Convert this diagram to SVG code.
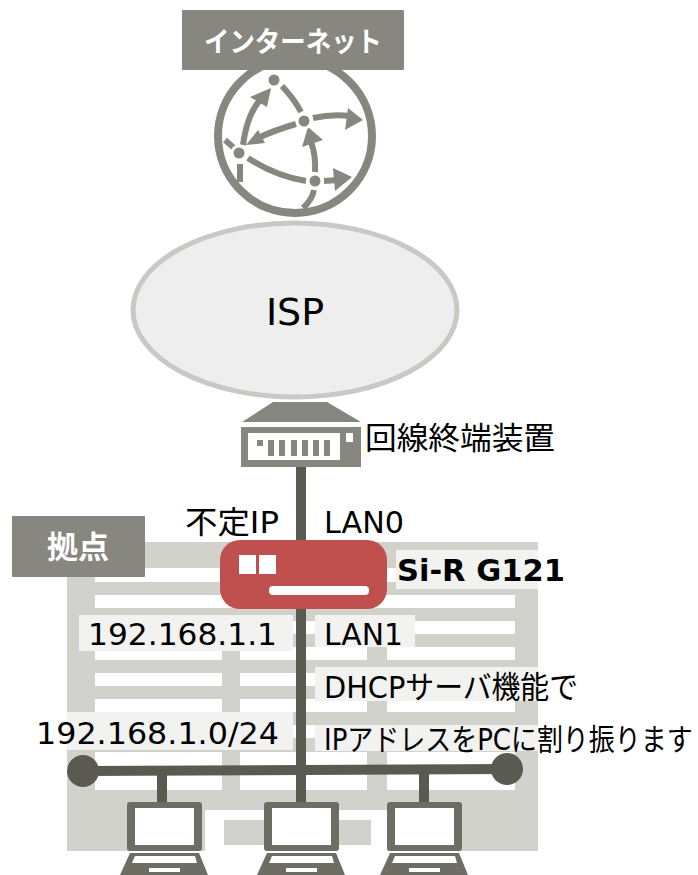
<svg xmlns="http://www.w3.org/2000/svg" width="698" height="875" viewBox="0 0 698 875">
<style>
.t{font-family:"DejaVu Sans","Noto Sans CJK JP",sans-serif;font-size:31px;fill:#000}
.w{font-family:"Noto Sans CJK JP",sans-serif;font-weight:700;fill:#fff;text-anchor:middle}
.bg{fill:#d2d2cc}.st{fill:#fff}.lb{fill:#f2f2f0}.dk{fill:#878780}.ln{stroke:#5a5a50;stroke-width:10;fill:none}
.g{fill:none;stroke:#878780;stroke-width:6}.h{fill:#878780}.n{fill:#878780;stroke:#fff;stroke-width:3}
.pc{fill:#6e6d63}
</style>
<rect width="698" height="875" fill="#fff"/>
<g id="site-plan">
<rect class="bg" x="67" y="542" width="471" height="309"/>
<rect class="st" x="95" y="568" width="420" height="14"/>
<rect class="st" x="95" y="595" width="420" height="13"/>
<rect class="st" x="95" y="621" width="420" height="13"/>
<rect class="st" x="95" y="647" width="127" height="13"/><rect class="st" x="240" y="647" width="127" height="13"/><rect class="st" x="387" y="647" width="128" height="13"/>
<rect class="st" x="95" y="673" width="127" height="13"/><rect class="st" x="240" y="673" width="127" height="13"/><rect class="st" x="387" y="673" width="128" height="13"/>
<rect class="st" x="95" y="699" width="127" height="13"/><rect class="st" x="240" y="699" width="127" height="13"/><rect class="st" x="387" y="699" width="128" height="13"/>
<rect class="st" x="95" y="725" width="127" height="13"/><rect class="st" x="240" y="725" width="127" height="13"/><rect class="st" x="387" y="725" width="128" height="13"/>
<rect class="st" x="95" y="752" width="127" height="38"/><rect class="st" x="240" y="752" width="127" height="38"/><rect class="st" x="387" y="752" width="128" height="38"/>
<rect class="st" x="205" y="810" width="182" height="41"/>
<rect class="bg" x="224" y="820" width="147" height="25"/>
<rect class="lb" x="396" y="550" width="142" height="39"/>
<rect class="lb" x="79" y="615" width="214" height="36"/>
<rect class="lb" x="315" y="615" width="100" height="32"/>
<rect class="lb" x="315" y="667" width="223" height="34"/>
<rect class="lb" x="67" y="712" width="226" height="38"/>
<rect class="lb" x="315" y="725" width="223" height="26"/>
</g>
<g id="connectors">
<path class="ln" d="M301 467V802"/>
<path class="ln" d="M83 771L507 769"/>
<path class="ln" d="M162 770V808"/>
<path class="ln" d="M424 770V802"/>
<circle cx="83" cy="771" r="16" fill="#5a5a50"/>
<circle cx="507" cy="769" r="16" fill="#5a5a50"/>
</g>
<g id="internet-globe">
<circle cx="295" cy="136" r="77" fill="#fff" stroke="#878780" stroke-width="8"/>
<path class="g" d="M282 86Q295 100 301 112"/>
<path class="g" d="M243 145Q247 115 260 100"/><polygon class="h" points="271,88 250,97 267,107"/>
<path class="g" d="M313 118Q332 114 350 116"/><polygon class="h" points="363,120 348,108 345,130"/>
<path class="g" d="M296 124Q275 130 258 138"/><polygon class="h" points="246,145 258,130 265,143"/>
<path class="g" d="M315 172Q316 155 311 142"/><polygon class="h" points="308,127 302,147 323,140"/>
<path class="g" d="M248 158Q275 176 306 181"/>
<path class="g" d="M324 181L338 180"/><polygon class="h" points="352,177 333,168 335,191"/>
<path class="g" d="M314 190Q312 200 303 208"/>
<path class="g" d="M240 164V182"/>
<path class="g" d="M225 140L234 148"/>
<circle class="n" cx="274" cy="80" r="7"/><circle class="n" cx="304" cy="121" r="7"/><circle class="n" cx="239" cy="153" r="7"/><circle class="n" cx="315" cy="181" r="7"/>
</g>
<g id="internet-label">
<rect class="dk" x="182" y="10" width="222" height="60" rx="1"/>
<text class="w" x="293" y="52" font-size="28" textLength="178" lengthAdjust="spacingAndGlyphs">インターネット</text>
</g>
<g id="isp">
<ellipse cx="295" cy="310" rx="162" ry="87" fill="#eeeeee" stroke="#c8c9c2" stroke-width="5"/>
<text class="t" x="295" y="325" style="font-size:38px" text-anchor="middle">ISP</text>
</g>
<g id="onu">
<polygon class="dk" points="273,402 327,402 361,422 242,422"/>
<rect class="dk" x="241" y="427" width="120" height="40"/>
<rect class="st" x="248" y="433" width="92" height="27"/>
<g class="dk"><rect x="257" y="440" width="6" height="6"/><rect x="268" y="440" width="6" height="16"/><rect x="279" y="440" width="6" height="16"/><rect x="291" y="440" width="6" height="16"/><rect x="302" y="440" width="6" height="16"/><rect x="313" y="440" width="6" height="16"/><rect x="324" y="440" width="6" height="16"/></g>
<rect class="st" x="346" y="433" width="7" height="9"/>
<text class="t" x="365" y="449" textLength="190" lengthAdjust="spacingAndGlyphs">回線終端装置</text>
</g>
<g id="site-label">
<rect class="dk" x="12" y="516" width="133" height="61" rx="1"/>
<text class="w" x="78" y="558" font-size="31">拠点</text>
</g>
<g id="router">
<rect x="220" y="540" width="167" height="69" rx="20" fill="#c0504d"/>
<rect class="st" x="239" y="555" width="17" height="19"/>
<rect class="st" x="259" y="555" width="17" height="19"/>
<rect class="st" x="269" y="586" width="100" height="9" rx="4"/>
<text class="t" x="397" y="581" textLength="168" lengthAdjust="spacingAndGlyphs" style="font-weight:700">Si-R G121</text>
</g>
<g id="labels">
<text class="t" x="185" y="533" textLength="94" lengthAdjust="spacingAndGlyphs">不定IP</text>
<text class="t" x="324" y="533" textLength="80" lengthAdjust="spacingAndGlyphs">LAN0</text>
<text class="t" x="88" y="645" textLength="189" lengthAdjust="spacingAndGlyphs">192.168.1.1</text>
<text class="t" x="324" y="645" textLength="79" lengthAdjust="spacingAndGlyphs">LAN1</text>
<text class="t" x="324" y="698" textLength="254" lengthAdjust="spacingAndGlyphs">DHCPサーバ機能で</text>
<text class="t" x="36" y="744" textLength="243" lengthAdjust="spacingAndGlyphs">192.168.1.0/24</text>
<text class="t" transform="translate(324 750) scale(.866 1)" style="font-size:30px">IPアドレスをPCに割り振ります</text>
</g>
<defs>
<g id="laptop">
<rect class="pc" x="127" y="802" width="75" height="49" rx="3"/>
<rect class="st" x="135" y="808" width="59" height="37"/>
<polygon class="pc" points="130,853 199,853 208,875 120,875"/>
<polygon class="st" points="135,856 195,856 197,863 132,863"/>
<rect class="st" x="149" y="868" width="31" height="4"/>
</g>
</defs>
<g id="pc1"><use href="#laptop"/></g>
<g id="pc2"><use href="#laptop" x="137"/></g>
<g id="pc3"><use href="#laptop" x="260"/></g>
</svg>
